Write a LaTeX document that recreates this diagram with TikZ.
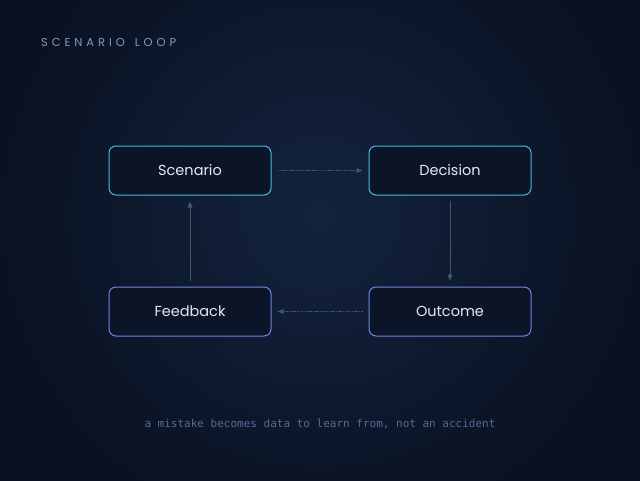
\documentclass[tikz,border=0pt]{standalone}
\usepackage{fontspec}
\setmainfont{Poppins}
\newfontfamily\titlefont[LetterSpace=34]{Poppins}
\newfontfamily\capfont{DejaVu Sans Mono}
\usetikzlibrary{arrows.meta}
\definecolor{bgouter}{HTML}{0A1122}
\definecolor{bginner}{HTML}{13233D}
\definecolor{boxfill}{HTML}{0C1428}
\definecolor{topline}{HTML}{45BCD6}
\definecolor{botline}{HTML}{6F86E6}
\definecolor{labeltext}{HTML}{E2E9F5}
\definecolor{arrowline}{HTML}{3E5574}
\definecolor{titletext}{HTML}{7F9BC0}
\definecolor{captext}{HTML}{4E6D95}
\tikzset{
    loopbox/.style={rectangle, rounded corners=7pt, fill=boxfill, line width=1pt,
        minimum width=162pt, minimum height=49pt, inner sep=0pt,
        text=labeltext, font=\fontsize{14.5}{16}\selectfont},
    flow/.style={draw=arrowline, line width=0.8pt, -{Triangle[length=6pt,width=5pt]}}
}
\begin{document}
\begin{tikzpicture}[x=1pt,y=-1pt]
    \useasboundingbox (0,0) rectangle (640,480);
    % background
    \begin{scope}
        \clip (-2,-2) rectangle (642,482);
        \fill[bgouter] (-2,-2) rectangle (642,482);
        \shade[inner color=bginner, outer color=bgouter] (320,215) circle (330);
    \end{scope}
    \node[anchor=west, inner sep=0pt, text=titletext, font=\titlefont\fontsize{11.5}{14}\selectfont] (title) at (41,42) {SCENARIO\hspace{3pt} LOOP};
    \begin{scope}[every node/.style={loopbox}]
        \node[draw=topline] (scen) at (190,170.5) {Scenario};
        \node[draw=topline] (dec) at (450,170.5) {Decision};
        \node[draw=botline] (out) at (450,311.5) {Outcome};
        \node[draw=botline] (feed) at (190,311.5) {Feedback};
    \end{scope}
    \begin{scope}[every edge/.style={flow}]
        \path (scen.east) ++(6,0) coordinate (s1);
        \path (dec.west) ++(-6,0) coordinate (d1);
        \path (s1) edge[dash pattern=on 1.5pt off 0.8pt] (d1);
        \path (dec.south) ++(0,5) coordinate (d2);
        \path (out.north) ++(0,-6) coordinate (o1);
        \path (d2) edge (o1);
        \path (out.west) ++(-6,0) coordinate (o2);
        \path (feed.east) ++(6,0) coordinate (f1);
        \path (o2) edge[dash pattern=on 1.5pt off 0.8pt] (f1);
        \path (feed.north) ++(0,-6) coordinate (f2);
        \path (scen.south) ++(0,6) coordinate (s2);
        \path (f2) edge (s2);
    \end{scope}
    \node[text=captext, font=\capfont\fontsize{11}{13}\selectfont] (cap) at (320,424) {a mistake becomes data to learn from, not an accident};
\end{tikzpicture}
\end{document}
